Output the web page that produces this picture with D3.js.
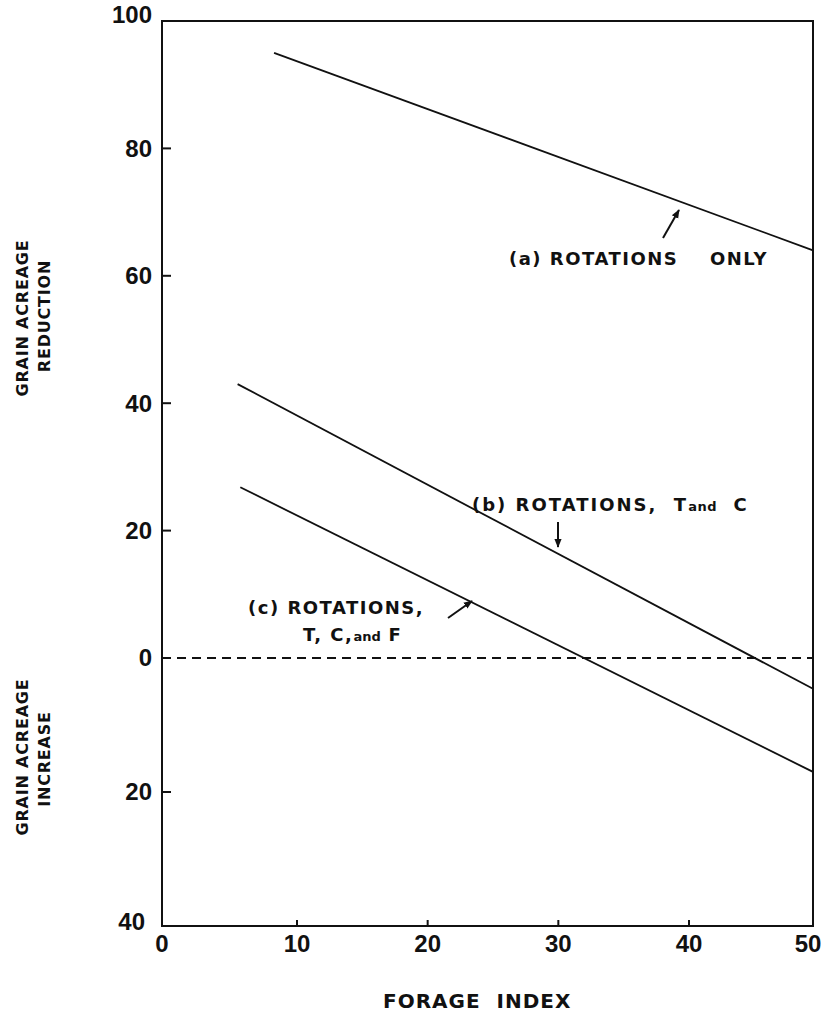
<!DOCTYPE html>
<html>
<head>
<meta charset="utf-8">
<script src="https://cdn.jsdelivr.net/npm/d3@7"></script>
<style>
  body { margin: 0; background: #fff; }
  svg { display: block; }
  .lbl { font-family: "DejaVu Sans", sans-serif; font-weight: bold; fill: #111; }
  .num { font-family: "Liberation Sans", Arial, sans-serif; font-weight: bold; fill: #111; font-size: 24px; }
</style>
</head>
<body>
<div id="chart"></div>
<script>
// Forage index (x) against grain acreage reduction / increase (y)
var xTickValues = [0, 10, 20, 30, 40, 50];
var xMinorTicks = [10, 20, 30, 40];
var yTickValues = [100, 80, 60, 40, 20, 0, -20, -40];
var yTickLabels = ["100", "80", "60", "40", "20", "0", "20", "40"];
var yMinorTicks = [80, 60, 40, 20, -20];

// (a) rotations only
var forageA = [8.3, 50];
var grainA = [95.0, 64.0];
// (b) rotations, T and C
var forageB = [5.6, 50];
var grainB = [43.0, -4.6];
// (c) rotations, T, C, and F
var forageC = [5.8, 50];
var grainC = [26.8, -17.0];

var width = 833,
    height = 1020;

var svg = d3.select("#chart")
    .append("svg")
    .attr("width", width)
    .attr("height", height);

// hand-drawn axes are not evenly spaced, so the scales are calibrated on the drawn ticks
var x = d3.scaleLinear()
    .domain([0, 10, 40, 50])
    .range([162, 297, 689, 813]);

var y = d3.scaleLinear()
    .domain([-40, 0, 100])
    .range([926, 658, 21]);

svg.append("defs").append("marker")
    .attr("id", "head")
    .attr("viewBox", "0 -5 10 10")
    .attr("refX", 9)
    .attr("refY", 0)
    .attr("markerUnits", "userSpaceOnUse")
    .attr("markerWidth", 9)
    .attr("markerHeight", 9)
    .attr("orient", "auto")
    .append("path")
    .attr("d", "M0,-4L10,0L0,4Z")
    .style("fill", "#111");

// Frame
svg.append("rect")
    .attr("x", x(0))
    .attr("y", y(100))
    .attr("width", x(50) - x(0))
    .attr("height", y(-40) - y(100))
    .style("fill", "none")
    .style("stroke", "#111")
    .style("stroke-width", 2);

// Inner tick marks
svg.append("g")
    .selectAll("line")
    .data(yMinorTicks)
    .enter().append("line")
    .attr("x1", x(0))
    .attr("x2", x(0) + 9)
    .attr("y1", function (d) { return y(d); })
    .attr("y2", function (d) { return y(d); })
    .style("stroke", "#111")
    .style("stroke-width", 2);

svg.append("g")
    .selectAll("line")
    .data(xMinorTicks)
    .enter().append("line")
    .attr("x1", function (d) { return x(d); })
    .attr("x2", function (d) { return x(d); })
    .attr("y1", y(-40))
    .attr("y2", y(-40) - 6)
    .style("stroke", "#111")
    .style("stroke-width", 2);

// Tick labels
svg.append("g")
    .selectAll("text")
    .data(yTickValues)
    .enter().append("text")
    .attr("class", "num")
    .attr("text-anchor", "end")
    .attr("x", function (d) { return d === -40 ? x(0) - 17 : x(0) - 10; })
    .attr("y", function (d) { return y(d) + (d === 100 ? -6 : d === -40 ? -4 : 0); })
    .attr("dy", "0.35em")
    .text(function (d, i) { return yTickLabels[i]; });

svg.append("g")
    .selectAll("text")
    .data(xTickValues)
    .enter().append("text")
    .attr("class", "num")
    .attr("text-anchor", "middle")
    .attr("x", function (d) { return d === 50 ? x(d) - 5 : x(d); })
    .attr("y", y(-40) + 18)
    .attr("dy", "0.35em")
    .text(function (d) { return d; });

// Zero line
svg.append("line")
    .attr("x1", x(0))
    .attr("x2", x(50))
    .attr("y1", y(0))
    .attr("y2", y(0))
    .style("stroke", "#111")
    .style("stroke-width", 2)
    .style("stroke-dasharray", "9,6");

// Lines
var line = d3.line()
    .x(function (d) { return x(d[0]); })
    .y(function (d) { return y(d[1]); });

[[forageA, grainA], [forageB, grainB], [forageC, grainC]].forEach(function (s) {
    svg.append("path")
        .datum(d3.zip(s[0], s[1]))
        .attr("d", line)
        .style("fill", "none")
        .style("stroke", "#111")
        .style("stroke-width", 1.8);
});

// Axis titles
function vText(cx, cy, size, str) {
    svg.append("text")
        .attr("class", "lbl")
        .attr("text-anchor", "middle")
        .attr("transform", "translate(" + cx + "," + cy + ") rotate(-90)")
        .attr("dy", "0.36em")
        .style("font-size", size + "px")
        .style("letter-spacing", "0.8px")
        .text(str);
}
vText(22, 318, 16, "GRAIN ACREAGE");
vText(44, 316, 16, "REDUCTION");
vText(22, 757, 16, "GRAIN ACREAGE");
vText(44, 759, 16, "INCREASE");

svg.append("text")
    .attr("class", "lbl")
    .attr("x", 383)
    .attr("y", 1008)
    .style("font-size", "20px")
    .style("letter-spacing", "1px")
    .attr("xml:space", "preserve")
    .text("FORAGE  INDEX");

// Annotations
function label(px, py, size, str) {
    return svg.append("text")
        .attr("class", "lbl")
        .attr("x", px)
        .attr("y", py)
        .style("font-size", size + "px")
        .style("letter-spacing", "1.5px")
        .text(str);
}
function arrow(x1, y1, x2, y2) {
    svg.append("line")
        .attr("x1", x1).attr("y1", y1)
        .attr("x2", x2).attr("y2", y2)
        .style("stroke", "#111")
        .style("stroke-width", 2)
        .attr("marker-end", "url(#head)");
}

label(509, 265, 18, "(a) ROTATIONS");
label(710, 265, 18, "ONLY");
arrow(663, 238, 679, 210);

var tb = label(472, 511, 18, "(b) ROTATIONS,  T").style("letter-spacing", "2px");
tb.attr("xml:space", "preserve");
tb.append("tspan").style("font-size", "13px").style("letter-spacing", "0.5px").text("and");
tb.append("tspan").text("  C");
arrow(558, 522, 558, 547);

label(248, 614, 18, "(c) ROTATIONS,");
arrow(448, 618, 472, 601);
var tc = label(303, 641, 18, "T, C,");
tc.append("tspan").style("font-size", "13px").style("letter-spacing", "0px").text("and");
tc.append("tspan").text(" F");
</script>
</body>
</html>
